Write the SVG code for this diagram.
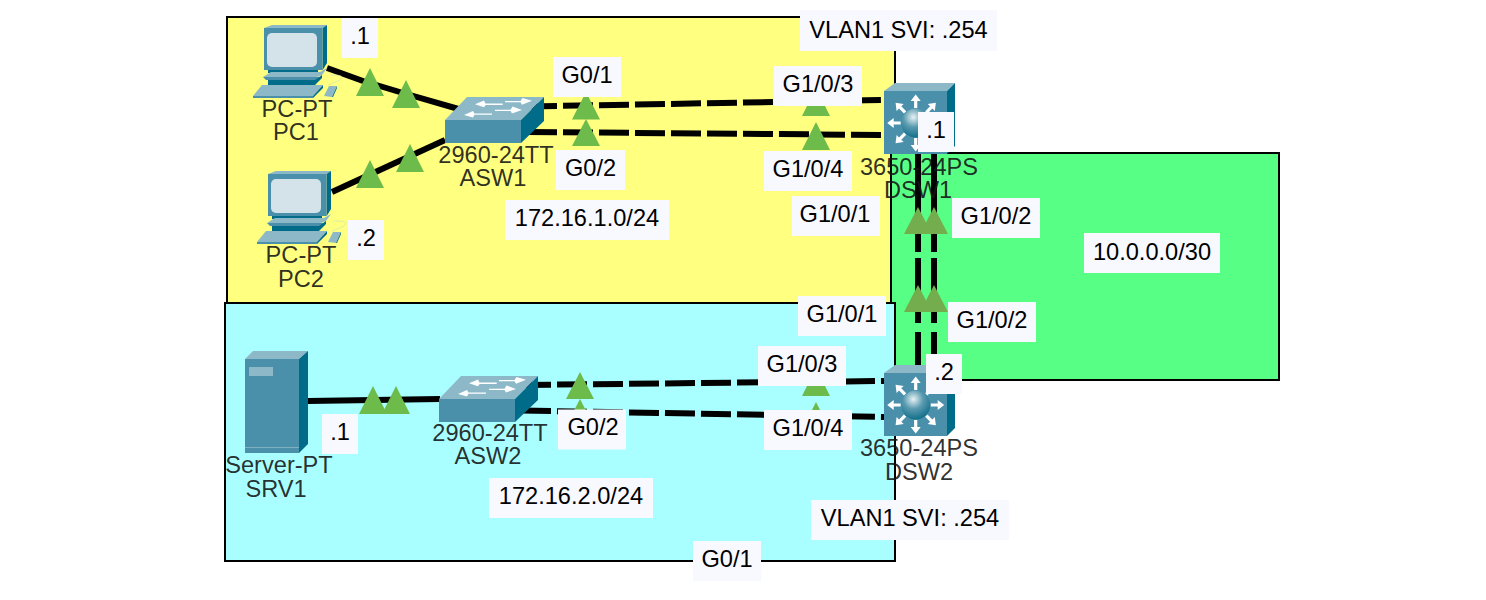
<svg xmlns="http://www.w3.org/2000/svg" width="1486" height="600" viewBox="0 0 1486 600">
<style>
text{font-family:"Liberation Sans",Arial,sans-serif;font-size:23.6px;text-anchor:middle}
.area{stroke:#000;stroke-width:2}
.lnk{fill:none;stroke:#000;stroke-width:6}
.tri{fill:#6dbb4b}
.tri2{fill:#74ad4e}
.nl{fill:#151515;fill-opacity:.9}
.box{fill:#f8f9ff}
.lt{fill:#000}
.f{fill:#4a90aa}.s{fill:#006c8a}.t{fill:#8db8c8}.w{fill:#fff}
</style>
<defs>
<radialGradient id="ball" cx="0.42" cy="0.3" r="0.75"><stop offset="0" stop-color="#e8f2f4"/><stop offset="0.45" stop-color="#5a9bb0"/><stop offset="1" stop-color="#0a6a86"/></radialGradient>
<g id="pc">
<path class="t" d="M264 28l8-3h55l-4 3z"/>
<path class="s" d="M322.700 28l4.300-3v38l-4.300 7z"/>
<rect class="s" x="268" y="69" width="50" height="4"/>
<rect class="f" x="264" y="28" width="58.700" height="42"/>
<rect x="267" y="33" width="50" height="34" rx="5" fill="#d3e3e9"/>
<path class="t" d="M263 77l8-5h49l7-4-5 7-5 2z"/>
<path class="f" d="M263 77h57l-2 3h-52z"/>
<rect class="s" x="268" y="80" width="47" height="5"/>
<path class="s" d="M315 80l7-5v3l-7 7z"/>
<path d="M328 85c6-2 15-6 14-8-1-2-7-2-12-2" fill="none" stroke="#d6e6a8" stroke-width=".8"/>
<path class="t" d="M253 96l9-11h61l-10 11z"/>
<rect class="f" x="253" y="96" width="60" height="2"/>
<path class="s" d="M313 96l10-11v3l-10 10z"/>
<path class="t" d="M324 96l5-10h8l-5 11z"/>
<path class="s" d="M332 97l5-11v2l-4 9z"/>
</g>
<g id="sw">
<path class="t" d="M445 120l22-23h77l-23 23z"/>
<rect class="f" x="445" y="120" width="76" height="23"/>
<path class="s" d="M521 120l23-23v24l-23 22z"/>
<path class="w" d="M475 104.300l9-3.800 1.500 3h17.200v1.400h-17l-1.700 2.400zM532 100.700l-10 4-1.500-2.500h-15.500v-1.200h15.500l2-3zM464 115l9-4 1.500 2.500h17.500v1.300h-17.500l-1.500 2.700zM522 110l-10 3.500-1.500-2.500h-15.500v-1.300h15.500l2-3.200z"/>
</g>
<path id="arr" class="w" d="M-1.600-15v-7h-3.400l5-6.500 5 6.500h-3.400v7z"/>
<g id="mls">
<path class="t" d="M884 91l11-8h60l-8 8z"/>
<rect class="f" x="884" y="91" width="63" height="63"/>
<path class="s" d="M947 91l8-8v63l-8 8z"/>
<g transform="translate(915.700 123)">
<use href="#arr"/><use href="#arr" transform="rotate(45)"/><use href="#arr" transform="rotate(90)"/><use href="#arr" transform="rotate(135)"/><use href="#arr" transform="rotate(180)"/><use href="#arr" transform="rotate(225)"/><use href="#arr" transform="rotate(270)"/><use href="#arr" transform="rotate(315)"/>
<circle r="14.500" fill="url(#ball)"/>
</g>
</g>
</defs>

<g id="areas">
<rect id="area-yellow" class="area" x="227" y="17" width="668" height="286" fill="#ffff80"/>
<rect id="area-green" class="area" x="891" y="153" width="388" height="227" fill="#57ff85"/>
<rect id="area-cyan" class="area" x="225" y="303" width="670" height="258" fill="#a9ffff"/>
</g>

<g id="connectors">
<path id="l-pc1" class="lnk" d="M327 68L363 81L403 93L462 110"/>
<path id="l-pc2" class="lnk" d="M332 192L445 140"/>
<path id="l-g01" class="lnk" stroke-dasharray="30 6" d="M527 106.500L884 100"/>
<path id="l-g02" class="lnk" stroke-dasharray="30 6" d="M527 132L884 135"/>
<path id="l-up1" class="lnk" stroke-dasharray="98 6 65 9" d="M918 154V366"/>
<path id="l-up2" class="lnk" stroke-dasharray="98 6 65 9" d="M934 154V366"/>
<path id="l-srv" class="lnk" d="M308 401L440 399"/>
<path id="l-a2u" class="lnk" stroke-dasharray="30 6" d="M521 385L884 381"/>
<path id="l-a2l" class="lnk" stroke-dasharray="30 6" d="M521 410.500L884 417"/>
</g>

<g id="link-lights">
<path class="tri" d="M370 68l14 28h-28z"/>
<path class="tri" d="M406 80l14 28h-28z"/>
<path class="tri" d="M370 160l14 28h-28z"/>
<path class="tri" d="M410 144l14 28h-28z"/>
<path class="tri" d="M586 92l14 27.500h-28z"/>
<path class="tri" d="M586 119l14 27h-28z"/>
<path class="tri" d="M816 88l14 28h-28z"/>
<path class="tri" d="M816 122l14 28h-28z"/>
<path class="tri2" d="M918 207l14 27h-28z"/>
<path class="tri2" d="M934 207l14 27h-28z"/>
<path class="tri2" d="M918 285l14 27h-28z"/>
<path class="tri2" d="M934 285l14 27h-28z"/>
<path class="tri" d="M373 386l14 28h-28z"/>
<path class="tri" d="M396 386l14 28h-28z"/>
<path class="tri" d="M580 372l14 27h-28z"/>
<path class="tri" d="M580 399l14 27h-28z"/>
<path class="tri" d="M816 368l14 28h-28z"/>
<path class="tri" d="M816 402l14 28h-28z"/>
</g>

<g id="PC1"><use href="#pc"/><text class="nl" x="297" y="117">PC-PT</text><text class="nl" x="296" y="140">PC1</text></g>
<g id="PC2"><use href="#pc" transform="translate(4 146)"/><text class="nl" x="301" y="263">PC-PT</text><text class="nl" x="301" y="287">PC2</text></g>
<g id="ASW1"><use href="#sw"/><text class="nl" x="496" y="163">2960-24TT</text><text class="nl" x="493" y="186">ASW1</text></g>
<g id="ASW2"><use href="#sw" transform="translate(-6 279)"/><text class="nl" x="490" y="441">2960-24TT</text><text class="nl" x="488" y="464">ASW2</text></g>
<g id="DSW1"><use href="#mls"/><text class="nl" x="919" y="175">3650-24PS</text><text class="nl" x="918" y="198">DSW1</text></g>
<g id="DSW2"><use href="#mls" transform="translate(0 282)"/><text class="nl" x="919" y="456">3650-24PS</text><text class="nl" x="919" y="480">DSW2</text></g>
<g id="SRV1">
<path class="t" d="M245 359l8-8h55l-9 8z"/>
<rect class="f" x="245" y="359" width="54" height="94"/>
<path class="s" d="M299 359l9-8v93l-9 9z"/>
<rect x="249" y="367" width="24" height="9" fill="#8db8c8"/>
<rect x="245" y="447" width="54" height="1" fill="#7fb0c2"/>
<text class="nl" x="279" y="473">Server-PT</text><text class="nl" x="276" y="497">SRV1</text>
</g>

<g id="labels">
<rect class="box" x="800" y="10" width="197" height="41"/><text class="lt" x="898.500" y="38">VLAN1 SVI: .254</text>
<rect class="box" x="342" y="18" width="36" height="40"/><text class="lt" x="360" y="44">.1</text>
<rect class="box" x="348" y="220" width="36" height="40"/><text class="lt" x="366" y="246">.2</text>
<rect class="box" x="553" y="57" width="68" height="40"/><text class="lt" x="587" y="83">G0/1</text>
<rect class="box" x="774" y="66" width="88" height="40"/><text class="lt" x="818" y="92">G1/0/3</text>
<rect class="box" x="556" y="150" width="69" height="40"/><text class="lt" x="590.500" y="176">G0/2</text>
<rect class="box" x="764" y="151" width="88" height="40"/><text class="lt" x="808" y="177">G1/0/4</text>
<rect class="box" x="505" y="200" width="164" height="40"/><text class="lt" x="587" y="226">172.16.1.0/24</text>
<rect class="box" x="792" y="196" width="88" height="40"/><text class="lt" x="835" y="222">G1/0/1</text>
<rect class="box" x="952" y="198" width="88" height="40"/><text class="lt" x="996" y="224">G1/0/2</text>
<rect class="box" x="918" y="112" width="36" height="40"/><text class="lt" x="936" y="138">.1</text>
<rect class="box" x="1084" y="233" width="136" height="40"/><text class="lt" x="1152" y="260">10.0.0.0/30</text>
<rect class="box" x="948" y="302" width="88" height="40"/><text class="lt" x="992" y="328">G1/0/2</text>
<rect class="box" x="798" y="296" width="88" height="40"/><text class="lt" x="842" y="322">G1/0/1</text>
<rect class="box" x="758" y="346" width="88" height="40"/><text class="lt" x="802" y="372">G1/0/3</text>
<rect class="box" x="764" y="410" width="88" height="40"/><text class="lt" x="808" y="436">G1/0/4</text>
<rect class="box" x="926" y="354" width="36" height="40"/><text class="lt" x="944" y="380">.2</text>
<rect class="box" x="322" y="414" width="36" height="40"/><text class="lt" x="340" y="440">.1</text>
<rect class="box" x="489" y="478" width="164" height="40"/><text class="lt" x="571" y="504">172.16.2.0/24</text>
<rect class="box" x="558" y="409.500" width="68" height="40"/><text class="lt" x="593" y="435">G0/2</text>
<rect class="box" x="811" y="500" width="198" height="40"/><text class="lt" x="910" y="526">VLAN1 SVI: .254</text>
<rect class="box" x="693" y="541" width="68" height="40"/><text class="lt" x="727" y="567">G0/1</text>
</g>
</svg>
